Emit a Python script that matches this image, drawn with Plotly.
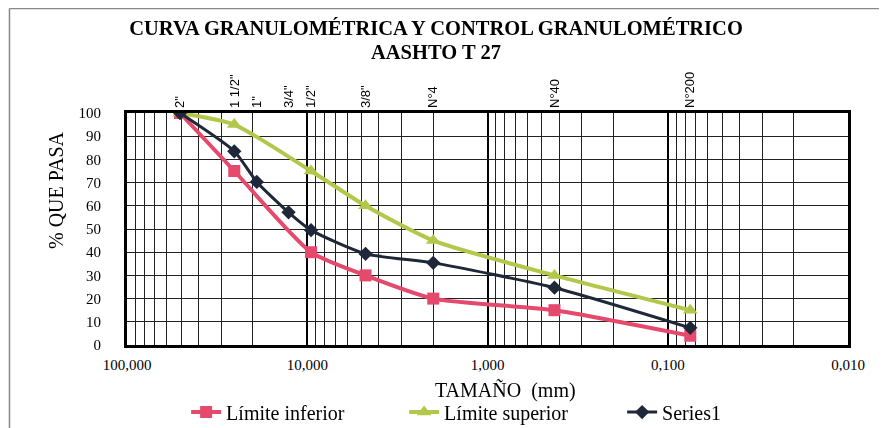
import plotly.graph_objects as go

# Sieve openings (mm) and top labels (as printed on the original chart)
sieve_mm = [50.8, 25.4, 19.05, 12.7, 9.525, 4.75, 2.0, 0.425, 0.075]
sieve_labels = ['2"', '1 1/2"', '1"', '3/4"', '1/2"', '3/8"', 'N°4', 'N°40', 'N°200']

# Specification limits
lim_x = [50.8, 25.4, 9.525, 4.75, 2.0, 0.425, 0.075]
lim_inferior = [100, 75, 40, 30, 20, 15, 4]
lim_superior = [100, 95, 75, 60, 45, 30, 15]

# Measured gradation
series1 = [100, 83.5, 70.3, 57.2, 49.5, 39.3, 35.4, 24.7, 7.4]

# Axis ticks
x_major = [100, 10, 1, 0.1, 0.01]
x_major_text = ['100,000', '10,000', '1,000', '0,100', '0,010']
x_minor = [m * d for d in [10, 1, 0.1, 0.01] for m in range(2, 10)]
y_ticks = list(range(0, 101, 10))

serif = "Liberation Serif, Times New Roman, serif"
sans = "Liberation Sans, Arial, sans-serif"

C_INF = "#E5496C"
C_SUP = "#B3C84A"
C_S1 = "#1E2838"

fig = go.Figure()
fig.add_trace(go.Scatter(
    x=lim_x, y=lim_inferior, name="Límite inferior", mode="lines+markers",
    line=dict(color=C_INF, width=4, shape="spline", smoothing=0.6),
    marker=dict(symbol="square", size=12, color=C_INF)))
fig.add_trace(go.Scatter(
    x=lim_x, y=lim_superior, name="Límite superior", mode="lines+markers",
    line=dict(color=C_SUP, width=4, shape="spline", smoothing=0.6),
    marker=dict(symbol="triangle-up", size=13, color=C_SUP)))
fig.add_trace(go.Scatter(
    x=sieve_mm, y=series1, name="Series1", mode="lines+markers",
    line=dict(color=C_S1, width=3, shape="spline", smoothing=0.6),
    marker=dict(symbol="diamond", size=11, color=C_S1)))
# invisible trace to carry the top sieve-label axis
fig.add_trace(go.Scatter(
    x=sieve_mm, y=series1, xaxis="x2", mode="markers", opacity=0,
    showlegend=False, hoverinfo="skip"))

# page body adds an 8px offset, so the figure is 8px smaller than the window
fig.update_layout(
    width=879, height=420,
    paper_bgcolor="white", plot_bgcolor="white",
    margin=dict(l=119, r=39, t=105, b=83, autoexpand=False),
    title=dict(
        text="CURVA GRANULOMÉTRICA Y CONTROL GRANULOMÉTRICO",
        x=0.487, xanchor="center", y=0.952, yanchor="middle",
        font=dict(family=serif, size=20.5, color="black", weight="bold")),
    xaxis=dict(
        type="log", range=[2, -2], automargin=False,
        tickvals=x_major, ticktext=x_major_text,
        tickfont=dict(family=serif, size=15, color="black"),
        showgrid=True, gridcolor="black", gridwidth=2,
        showline=True, linecolor="black", linewidth=3, mirror=True,
        ticks="", ticklabelstandoff=4,
        minor=dict(tickvals=x_minor, showgrid=True, gridcolor="#222", gridwidth=1),
        zeroline=False),
    xaxis2=dict(
        type="log", range=[2, -2], overlaying="x", side="top", anchor="y",
        automargin=False,
        tickvals=sieve_mm, ticktext=sieve_labels, tickangle=-90,
        tickfont=dict(family=sans, size=13, color="black"),
        showgrid=False, ticks="", ticklabelstandoff=4, showline=False),
    yaxis=dict(
        range=[0, 100], tickvals=y_ticks, automargin=False,
        tickfont=dict(family=serif, size=15, color="black"),
        showgrid=True, gridcolor="#222", gridwidth=1,
        showline=True, linecolor="black", linewidth=3, mirror=True,
        ticks="", ticklabelstandoff=20, zeroline=False),
    legend=dict(
        orientation="h", x=0.082, xanchor="left", y=-0.289, yanchor="middle",
        entrywidth=173, entrywidthmode="pixels",
        font=dict(family=serif, size=20, color="black"),
        bgcolor="rgba(0,0,0,0)"),
    showlegend=True,
)

# second title line
fig.add_annotation(text="<b>AASHTO T 27</b>", xref="paper", yref="paper",
                   x=0.4286, y=1.263, xanchor="center", yanchor="middle",
                   showarrow=False, font=dict(family=serif, size=20.5, color="black"))
# axis titles
fig.add_annotation(text="TAMAÑO  (mm)", xref="paper", yref="paper",
                   x=(497 - 119) / 721, y=(337 - 382) / 232, xanchor="center", yanchor="middle",
                   showarrow=False, font=dict(family=serif, size=20, color="black"))
fig.add_annotation(text="% QUE PASA", xref="paper", yref="paper", textangle=-90,
                   x=(48 - 119) / 721, y=(337 - 182) / 232, xanchor="center", yanchor="middle",
                   showarrow=False, font=dict(family=serif, size=20, color="black"))

# outer chart border (top and left edges visible in the original)
fig.add_shape(type="line", xref="paper", yref="paper",
              x0=-0.163, x1=1.054, y0=1.45, y1=1.45,
              line=dict(color="#888", width=1.5))
fig.add_shape(type="line", xref="paper", yref="paper",
              x0=-0.163, x1=-0.163, y0=1.45, y1=-0.36,
              line=dict(color="#888", width=1.5))

fig.write_html("out.html")
